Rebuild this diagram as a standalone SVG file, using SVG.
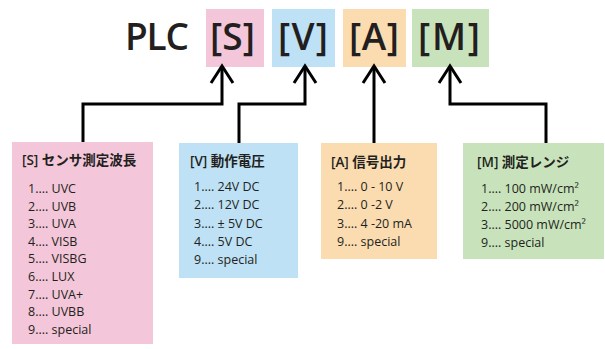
<svg xmlns="http://www.w3.org/2000/svg" width="605" height="349" viewBox="0 0 605 349">
<style>
.big{font-family:"Open Sans","Noto Sans",sans-serif;font-size:37px;font-weight:600;fill:#231f20;letter-spacing:2px}
.ttl{font-family:"Open Sans","Noto Sans CJK JP",sans-serif;font-size:13.5px;font-weight:600;fill:#231f20}
.it{font-family:"Open Sans","Noto Sans CJK JP",sans-serif;font-size:12.5px;fill:#231f20}
.ln{fill:none;stroke:#000;stroke-width:3}
</style>
<defs>
<marker id="arr" markerUnits="userSpaceOnUse" orient="auto" markerWidth="30" markerHeight="30" refX="0" refY="0" viewBox="-20 -15 30 30" overflow="visible">
<path d="M-17,-11 L0,0 L-17,11" fill="none" stroke="#000" stroke-width="3"/>
</marker>
</defs>
<rect width="605" height="349" fill="#fff"/>
<g id="title">
<text class="big" x="125" y="50" textLength="66" lengthAdjust="spacing">PLC</text>
</g>
<g id="code-S">
<rect x="206" y="9" width="58" height="58" fill="#f4c6d9"/>
<text class="big" x="210" y="50" textLength="47" lengthAdjust="spacing">[S]</text>
</g>
<g id="code-V">
<rect x="272" y="9" width="63" height="58" fill="#bee1f5"/>
<text class="big" x="278" y="50" textLength="52" lengthAdjust="spacing">[V]</text>
</g>
<g id="code-A">
<rect x="343" y="9" width="63" height="58" fill="#fbdcb1"/>
<text class="big" x="349" y="50" textLength="52" lengthAdjust="spacing">[A]</text>
</g>
<g id="code-M">
<rect x="412" y="9" width="77" height="58" fill="#c8e3bb"/>
<text class="big" x="418" y="50" textLength="64" lengthAdjust="spacing">[M]</text>
</g>
<g id="connectors">
<path class="ln" d="M83,143 V104 H222 V66" marker-end="url(#arr)"/>
<path class="ln" d="M239,143 V104 H305 V66" marker-end="url(#arr)"/>
<path class="ln" d="M374,143 V66" marker-end="url(#arr)"/>
<path class="ln" d="M546,143 V104 H450 V66" marker-end="url(#arr)"/>
</g>
<g id="box-S">
<rect x="12" y="142" width="141" height="202" fill="#f4c6d9"/>
<text class="ttl" x="22" y="165">[S] センサ測定波長</text>
<text class="it" x="28" y="193">1.... UVC</text>
<text class="it" x="28" y="210.6">2.... UVB</text>
<text class="it" x="28" y="228.2">3.... UVA</text>
<text class="it" x="28" y="245.8">4.... VISB</text>
<text class="it" x="28" y="263.4">5.... VISBG</text>
<text class="it" x="28" y="281">6.... LUX</text>
<text class="it" x="28" y="298.6">7.... UVA+</text>
<text class="it" x="28" y="316.2">8.... UVBB</text>
<text class="it" x="28" y="333.8">9.... special</text>
</g>
<g id="box-V">
<rect x="179" y="143" width="119" height="135" fill="#bee1f5"/>
<text class="ttl" x="190" y="166">[V] 動作電圧</text>
<text class="it" x="194" y="191">1.... 24V DC</text>
<text class="it" x="194" y="209.3">2.... 12V DC</text>
<text class="it" x="194" y="227.6">3.... ± 5V DC</text>
<text class="it" x="194" y="245.9">4.... 5V DC</text>
<text class="it" x="194" y="264.2">9.... special</text>
</g>
<g id="box-A">
<rect x="321" y="143" width="116" height="116" fill="#fbdcb1"/>
<text class="ttl" x="331" y="167">[A] 信号出力</text>
<text class="it" x="337" y="191">1.... 0 - 10 V</text>
<text class="it" x="337" y="209.4">2.... 0 -2 V</text>
<text class="it" x="337" y="227.8">3.... 4 -20 mA</text>
<text class="it" x="337" y="246.2">9.... special</text>
</g>
<g id="box-M">
<rect x="463" y="143" width="141" height="116" fill="#c8e3bb"/>
<text class="ttl" x="477" y="166.5">[M] 測定レンジ</text>
<text class="it" x="481" y="193">1.... 100 mW/cm²</text>
<text class="it" x="481" y="211">2.... 200 mW/cm²</text>
<text class="it" x="481" y="229">3.... 5000 mW/cm²</text>
<text class="it" x="481" y="247">9.... special</text>
</g>
</svg>
